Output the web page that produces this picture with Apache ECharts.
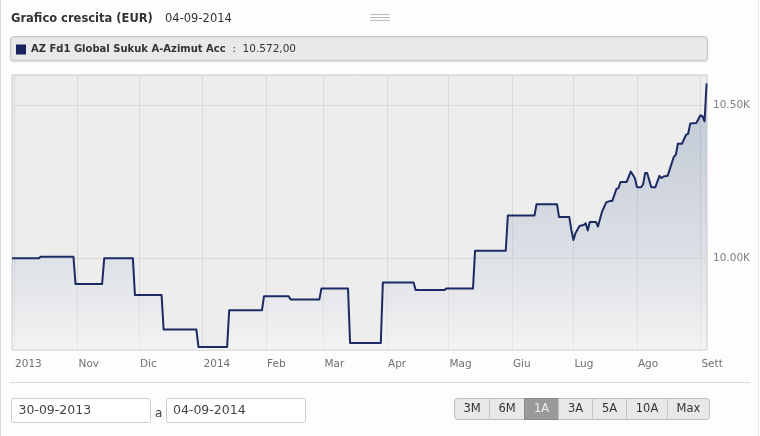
<!DOCTYPE html>
<html>
<head>
<meta charset="utf-8">
<title>Grafico crescita (EUR)</title>
<script src="https://cdn.jsdelivr.net/npm/echarts@6/dist/echarts.min.js"></script>
<style>
  html, body { margin: 0; padding: 0; background: #fdfdfd; }
  #chart { width: 760px; height: 436px; }
</style>
</head>
<body>
<div id="chart"></div>
<script>
// --- data ---
const seriesName = 'AZ Fd1 Global Sukuk A-Azimut Acc'
const chartTitle = 'Grafico crescita (EUR)'
const chartDate = '04-09-2014'

const dates = [
  '2013-09-30', '2013-10-13', '2013-10-14', '2013-10-30', '2013-10-31', '2013-11-13',
  '2013-11-14', '2013-11-28', '2013-11-29', '2013-12-12', '2013-12-13', '2013-12-29',
  '2013-12-30', '2014-01-13', '2014-01-14', '2014-01-30', '2014-01-31', '2014-02-12',
  '2014-02-13', '2014-02-27', '2014-02-28', '2014-03-13', '2014-03-14', '2014-03-29',
  '2014-03-30', '2014-04-14', '2014-04-15', '2014-04-29', '2014-04-30', '2014-05-13',
  '2014-05-14', '2014-05-29', '2014-05-30', '2014-06-12', '2014-06-13', '2014-06-23',
  '2014-06-24', '2014-06-29', '2014-06-30', '2014-07-01', '2014-07-02', '2014-07-04',
  '2014-07-06', '2014-07-07', '2014-07-08', '2014-07-09', '2014-07-12', '2014-07-13',
  '2014-07-15', '2014-07-17', '2014-07-19', '2014-07-20', '2014-07-22', '2014-07-23',
  '2014-07-24', '2014-07-27', '2014-07-29', '2014-07-31', '2014-08-01', '2014-08-03',
  '2014-08-04', '2014-08-05', '2014-08-06', '2014-08-08', '2014-08-10', '2014-08-12',
  '2014-08-13', '2014-08-14', '2014-08-16', '2014-08-19', '2014-08-20', '2014-08-21',
  '2014-08-23', '2014-08-25', '2014-08-26', '2014-08-27', '2014-08-30', '2014-09-01',
  '2014-09-02', '2014-09-03', '2014-09-04'
]
const values = [
  10000, 10000, 10005, 10005, 9916, 9916,
  10000, 10000, 9880, 9880, 9767, 9767,
  9710, 9710, 9830, 9830, 9876, 9876,
  9865, 9865, 9901, 9901, 9723, 9723,
  9921, 9921, 9896, 9896, 9901, 9901,
  10025, 10025, 10140, 10140, 10177, 10177,
  10135, 10135, 10093, 10060, 10082, 10106,
  10109, 10115, 10091, 10119, 10119, 10104,
  10153, 10183, 10188, 10188, 10227, 10230,
  10250, 10250, 10284, 10263, 10233, 10233,
  10241, 10279, 10279, 10233, 10233, 10270,
  10263, 10268, 10270, 10332, 10339, 10375,
  10375, 10405, 10407, 10441, 10443, 10468,
  10465, 10448, 10572
]

const tickDates = [
  '2013-10-01', '2013-11-01', '2013-12-01', '2014-01-01', '2014-02-01', '2014-03-01',
  '2014-04-01', '2014-05-01', '2014-06-01', '2014-07-01', '2014-08-01', '2014-09-01'
]
const tickLabels = ['2013', 'Nov', 'Dic', '2014', 'Feb', 'Mar', 'Apr', 'Mag', 'Giu', 'Lug', 'Ago', 'Sett']
const yTicks = [10000, 10500]

const fromDate = '30-09-2013'
const toDate = '04-09-2014'
const rangeButtons = ['3M', '6M', '1A', '3A', '5A', '10A', 'Max']
const activeButton = '1A'

// --- helpers ---
const toTime = (s) => {
  const [y, m, d] = s.split('-').map(Number)
  return new Date(y, m - 1, d).getTime()
}
const fmtIt = (v) => {
  const [int, dec] = v.toFixed(2).split('.')
  return int.replace(/\B(?=(\d{3})+(?!\d))/g, '.') + ',' + dec
}

const tickTimes = tickDates.map(toTime)
const FONT = '"DejaVu Sans", Verdana, sans-serif'

const labelFor = (v) => {
  let best = 0
  tickTimes.forEach((t, i) => {
    if (Math.abs(t - v) < Math.abs(tickTimes[best] - v)) best = i
  })
  return tickLabels[best]
}

// button layout (x edges)
const btnEdges = [454.5, 489.5, 524.5, 558.5, 592.5, 626.5, 667.5, 709.5]

const graphics = [
  // panel borders
  { type: 'line', shape: { x1: 0.5, y1: 0, x2: 0.5, y2: 436 }, style: { stroke: '#d6d6d6', lineWidth: 1 } },
  { type: 'line', shape: { x1: 758.5, y1: 0, x2: 758.5, y2: 436 }, style: { stroke: '#e6e6e6', lineWidth: 1 } },
  // title
  { type: 'text', x: 11, y: 19, style: { text: chartTitle, font: 'bold 11.5px ' + FONT, fill: '#333', verticalAlign: 'middle' } },
  { type: 'text', x: 165, y: 19, style: { text: chartDate, font: '11.5px ' + FONT, fill: '#333', verticalAlign: 'middle' } },
  // drag handle
  { type: 'line', shape: { x1: 370, y1: 14.5, x2: 390, y2: 14.5 }, style: { stroke: '#bbb' } },
  { type: 'line', shape: { x1: 370, y1: 17.5, x2: 390, y2: 17.5 }, style: { stroke: '#bbb' } },
  { type: 'line', shape: { x1: 370, y1: 20.5, x2: 390, y2: 20.5 }, style: { stroke: '#bbb' } },
  // legend box
  {
    type: 'rect', z: 0,
    shape: { x: 10.5, y: 36.5, width: 697, height: 24, r: 3 },
    style: { fill: '#e9e9e9', stroke: '#c8c8c8', shadowBlur: 2, shadowOffsetY: 1, shadowColor: 'rgba(0,0,0,0.12)' }
  },
  // separator under x labels
  { type: 'line', shape: { x1: 10, y1: 382.5, x2: 750, y2: 382.5 }, style: { stroke: '#dcdcdc' } },
  // date inputs
  { type: 'rect', shape: { x: 11.5, y: 398.5, width: 139, height: 24, r: 2 }, style: { fill: '#fff', stroke: '#cccccc' } },
  { type: 'text', x: 18.5, y: 411, style: { text: fromDate, font: '12.5px ' + FONT, fill: '#444', verticalAlign: 'middle' } },
  { type: 'text', x: 155, y: 414, style: { text: 'a', font: '12px ' + FONT, fill: '#444', verticalAlign: 'middle' } },
  { type: 'rect', shape: { x: 166.5, y: 398.5, width: 139, height: 24, r: 2 }, style: { fill: '#fff', stroke: '#cccccc' } },
  { type: 'text', x: 173, y: 411, style: { text: toDate, font: '12.5px ' + FONT, fill: '#444', verticalAlign: 'middle' } },
  // button group background
  {
    type: 'rect',
    shape: { x: btnEdges[0], y: 398.5, width: btnEdges[btnEdges.length - 1] - btnEdges[0], height: 21, r: 3 },
    style: { fill: '#e8e8e8', stroke: '#bdbdbd' }
  }
]

rangeButtons.forEach((label, i) => {
  const x0 = btnEdges[i]
  const x1 = btnEdges[i + 1]
  const active = label === activeButton
  if (active) {
    graphics.push({ type: 'rect', shape: { x: x0, y: 398.5, width: x1 - x0, height: 21 }, style: { fill: '#9a9a9a', stroke: '#8a8a8a' } })
  } else if (i > 0) {
    graphics.push({ type: 'line', shape: { x1: x0, y1: 398.5, x2: x0, y2: 419.5 }, style: { stroke: '#c4c4c4' } })
  }
  graphics.push({
    type: 'text', x: (x0 + x1) / 2, y: 409,
    style: { text: label, font: '11.5px ' + FONT, fill: active ? '#eeeeee' : '#333', align: 'center', verticalAlign: 'middle' }
  })
})

const chart = echarts.init(document.getElementById('chart'))

const option = {
  animation: false,
  backgroundColor: '#fdfdfd',
  textStyle: { fontFamily: FONT },
  legend: {
    left: 16,
    top: 44,
    padding: 0,
    icon: 'rect',
    itemWidth: 10,
    itemHeight: 10,
    itemGap: 6,
    selectedMode: false,
    data: [seriesName],
    formatter: (name) => '{b|' + name + '}{v|  :  ' + fmtIt(values[values.length - 1]) + '}',
    textStyle: {
      rich: {
        b: { fontWeight: 'bold', fontSize: 10, color: '#333', fontFamily: FONT },
        v: { fontSize: 10.5, color: '#333', fontFamily: FONT }
      }
    }
  },
  grid: {
    left: 12,
    top: 75,
    width: 695,
    height: 275,
    show: true,
    backgroundColor: '#ededed',
    borderColor: '#c8c8c8',
    borderWidth: 1,
    outerBoundsMode: 'none'
  },
  xAxis: {
    type: 'value',
    min: toTime('2013-09-30'),
    max: toTime('2014-09-04') + 5 * 3600 * 1000,
    axisLine: { show: false },
    axisTick: { show: false, customValues: tickTimes },
    splitLine: { show: true, lineStyle: { color: '#d9d9d9' } },
    axisLabel: {
      customValues: tickTimes,
      formatter: labelFor,
      align: 'left',
      padding: [0, 0, 0, 1],
      margin: 9,
      hideOverlap: false,
      color: '#707070',
      fontSize: 10.5,
      fontFamily: FONT
    }
  },
  yAxis: {
    type: 'value',
    position: 'right',
    min: 9700,
    max: 10600,
    axisLine: { show: false },
    axisTick: { show: false, customValues: yTicks },
    splitLine: { show: true, lineStyle: { color: '#d9d9d9' } },
    axisLabel: {
      customValues: yTicks,
      formatter: (v) => (v / 1000).toFixed(2) + 'K',
      margin: 6,
      color: '#808080',
      fontSize: 10.5,
      fontFamily: FONT
    }
  },
  series: [
    {
      name: seriesName,
      type: 'line',
      data: dates.map((d, i) => [toTime(d), values[i]]),
      symbol: 'none',
      showSymbol: false,
      itemStyle: { color: '#1a2360' },
      lineStyle: { color: '#1c2a64', width: 2, join: 'round' },
      areaStyle: {
        origin: 'start',
        color: new echarts.graphic.LinearGradient(0, 0, 0, 1, [
          { offset: 0, color: 'rgba(60,90,140,0.35)' },
          { offset: 1, color: 'rgba(255,255,255,0.5)' }
        ])
      }
    }
  ],
  graphic: graphics
}

chart.setOption(option)
</script>
</body>
</html>
